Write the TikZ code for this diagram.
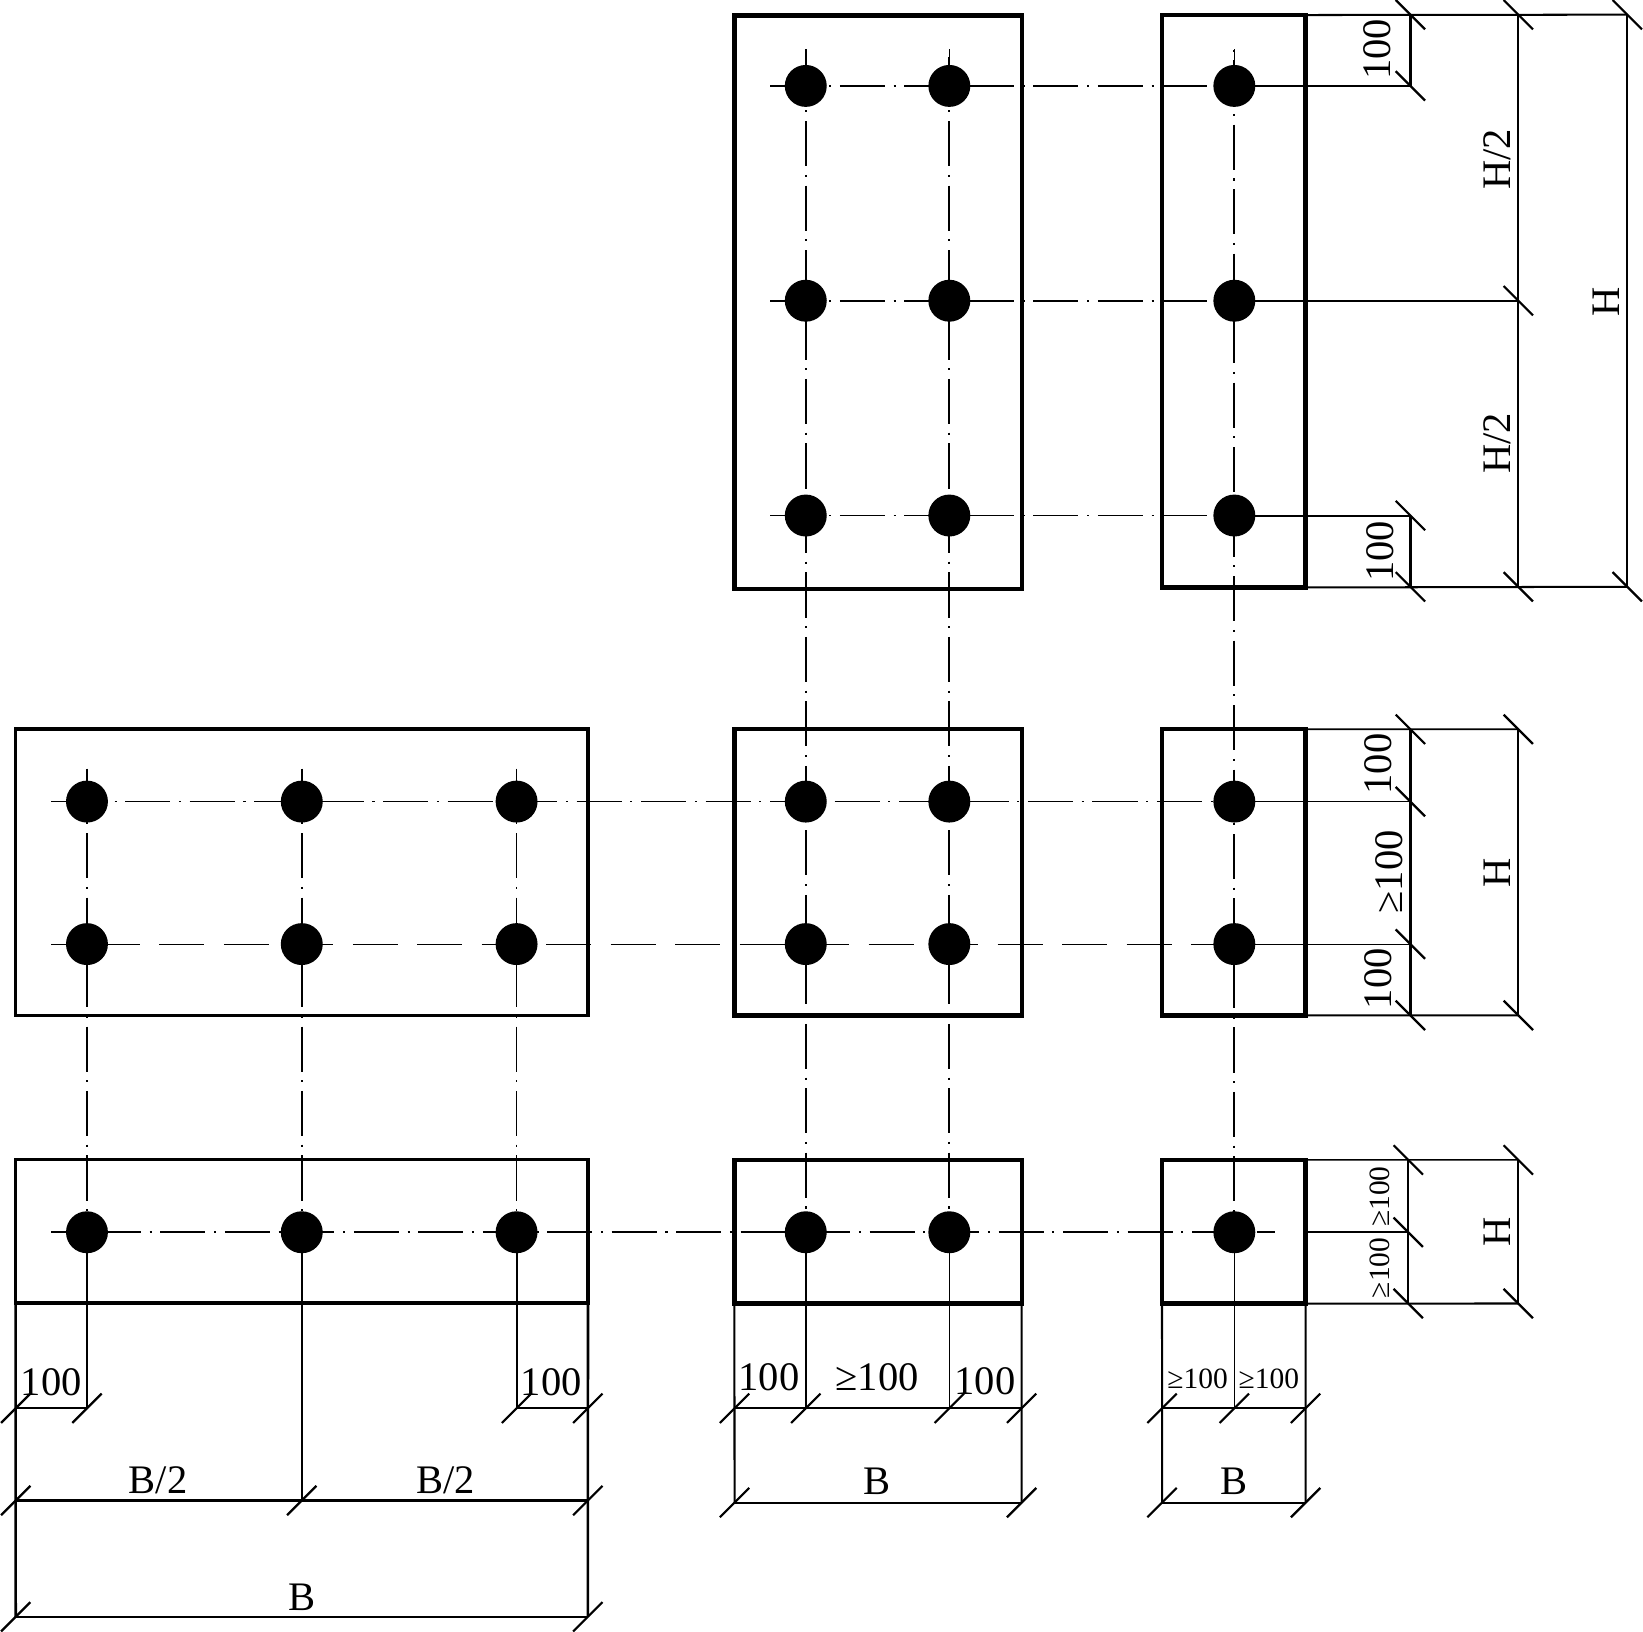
\documentclass[tikz,border=0pt]{standalone}
\usepackage{fontspec}
\setmainfont{Liberation Serif}
\tikzset{
	plate/.style={draw,line width=1.15pt,inner sep=0,outer sep=0},
	bolt/.style={circle,fill=black,inner sep=0,outer sep=0,minimum size=0.4cm},
	hcentre/.style={line width=0.43pt,dash pattern=on 0.43cm off 0.0825cm on 0.02cm off 0.0825cm},
	hfaint/.style={line width=0.3pt,dash pattern=on 0.43cm off 0.185cm},
	vcentre/.style={line width=0.48pt,dash pattern=on 0.43cm off 0.0825cm on 0.02cm off 0.0825cm},
	extline/.style={line width=0.43pt},
	faintline/.style={line width=0.3pt},
	dimline/.style={line width=0.55pt},
	heavydim/.style={line width=0.7pt},
	dimtick/.style={line width=0.6pt},
	lab/.style={font=\fontsize{11}{11}\selectfont,inner sep=0},
	smalllab/.style={font=\fontsize{8}{8}\selectfont,inner sep=0},
}
\newcommand{\hmark}[2]{\coordinate (#1) at #2; \draw[dimtick] (#1) ++(-14,14) -- ++(28,-28);}
\newcommand{\vmark}[2]{\coordinate (#1) at #2; \draw[dimtick] (#1) ++(-14,-14) -- ++(28,28);}
\begin{document}
\begin{tikzpicture}[x=0.01cm,y=-0.01cm]
	\useasboundingbox (0,0) rectangle (1568,1557.5);
	% plates
	\node[plate,minimum width=2.74cm,minimum height=5.47cm] (topB) at (838,288.5) {};
	\node[plate,minimum width=1.37cm,minimum height=5.46cm] (topC) at (1177.5,287.5) {};
	\node[plate,line width=1pt,minimum width=5.46cm,minimum height=2.73cm] (midA) at (288,832.5) {};
	\node[plate,minimum width=2.74cm,minimum height=2.73cm] (midB) at (838,832.5) {};
	\node[plate,minimum width=1.37cm,minimum height=2.73cm] (midC) at (1177.5,832.5) {};
	\node[plate,line width=1pt,minimum width=5.46cm,minimum height=1.37cm] (botA) at (288,1175) {};
	\node[plate,minimum width=2.74cm,minimum height=1.37cm] (botB) at (838,1175.5) {};
	\node[plate,minimum width=1.37cm,minimum height=1.37cm] (botC) at (1177.5,1175.5) {};
	\draw[line width=1.5pt] (topC.north east) -- (topC.south east);
	\draw[line width=1.5pt] (midC.north east) -- (midC.south east);
	\draw[line width=1.5pt] (botC.north east) -- (botC.south east);
	% bolts
	\node[bolt] (t1) at (769,82) {};
	\node[bolt] (t2) at (906,82) {};
	\node[bolt] (t3) at (1178,82) {};
	\node[bolt] (u1) at (769,287) {};
	\node[bolt] (u2) at (906,287) {};
	\node[bolt] (u3) at (1178,287) {};
	\node[bolt] (v1) at (769,492) {};
	\node[bolt] (v2) at (906,492) {};
	\node[bolt] (v3) at (1178,492) {};
	\node[bolt] (m1) at (83,765) {};
	\node[bolt] (m2) at (288,765) {};
	\node[bolt] (m3) at (493,765) {};
	\node[bolt] (m4) at (769,765) {};
	\node[bolt] (m5) at (906,765) {};
	\node[bolt] (m6) at (1178,765) {};
	\node[bolt] (n1) at (83,901) {};
	\node[bolt] (n2) at (288,901) {};
	\node[bolt] (n3) at (493,901) {};
	\node[bolt] (n4) at (769,901) {};
	\node[bolt] (n5) at (906,901) {};
	\node[bolt] (n6) at (1178,901) {};
	\node[bolt] (b1) at (83,1176) {};
	\node[bolt] (b2) at (288,1176) {};
	\node[bolt] (b3) at (493,1176) {};
	\node[bolt] (b4) at (769,1176) {};
	\node[bolt] (b5) at (906,1176) {};
	\node[bolt] (b6) at (1178,1176) {};
	% free ends of the centre lines
	\coordinate (tl) at (735,82);
	\coordinate (ul) at (735,287);
	\coordinate (vl) at (735,492);
	\coordinate (ml) at (49,765);
	\coordinate (nl) at (49,901);
	\coordinate (bl) at (49,1176);
	\coordinate (br) at (1217,1176);
	\coordinate (ta) at (83,731);
	\coordinate (tb) at (288,731);
	\coordinate (tc) at (493,731);
	\coordinate (td) at (769,47);
	\coordinate (te) at (906,47);
	\coordinate (tf) at (1178,47);
	% centre lines
	\draw[hcentre,dash phase=0.565cm] (tl) -- (t3.center);
	\draw[hcentre,dash phase=0.565cm] (ul) -- (u3.center);
	\draw[hcentre,dash phase=0.565cm] (vl) -- (v3.center);
	\draw[hcentre,dash phase=0.525cm] (ml) -- (m6.center);
	\draw[hfaint,dash phase=0.2cm] (nl) -- (n6.center);
	\draw[hcentre,dash phase=0.19cm] (bl) -- (br);
	\draw[extline] (tl) -- (t1);
	\draw[extline] (ul) -- (u1);
	\draw[extline] (vl) -- (v1);
	\draw[extline] (ml) -- (m1);
	\draw[vcentre,dash phase=0.59cm] (ta) -- (b1.center);
	\draw[vcentre,dash phase=0.59cm] (tb) -- (b2.center);
	\draw[vcentre,dash phase=0.59cm] (tc) -- (b3.center);
	\draw[vcentre,dash phase=0.545cm] (td) -- (b4.center);
	\draw[vcentre,dash phase=0.545cm] (te) -- (b5.center);
	\draw[vcentre,dash phase=0.51cm] (tf) -- (b6.center);
	\draw[extline] (td) -- (t1);
	\draw[extline] (te) -- (t2);
	\draw[extline] (tf) -- (t3);
	% dimensions, right of the top plates
	\vmark{ra1}{(1346,14)}
	\vmark{ra2}{(1346,82)}
	\vmark{ra3}{(1346,492)}
	\vmark{ra4}{(1346,560)}
	\vmark{rb1}{(1449,14)}
	\vmark{rb2}{(1449,287)}
	\vmark{rb3}{(1449,560)}
	\vmark{rc1}{(1553,14)}
	\vmark{rc2}{(1553,560)}
	\draw[dimline] (topC.north east) -- (rc1);
	\draw[extline] (t3.center) -- (ra2);
	\draw[extline] (u3.center) -- (rb2);
	\draw[dimline] (v3.center) -- (ra3);
	\draw[dimline] (topC.south east) -- (rc2);
	\draw[heavydim] (ra1) -- (ra2);
	\draw[heavydim] (ra3) -- (ra4);
	\draw[dimline] (rb1) -- (rb3);
	\draw[dimline] (rc1) -- (rc2);
	% dimensions, right of the middle plates
	\vmark{sa1}{(1346,696)}
	\vmark{sa2}{(1346,765)}
	\vmark{sa3}{(1346,901)}
	\vmark{sa4}{(1346,969)}
	\vmark{sb1}{(1449,696)}
	\vmark{sb2}{(1449,969)}
	\draw[extline] (midC.north east) -- (sb1);
	\draw[extline] (m6.center) -- (sa2);
	\draw[faintline] (n6.center) -- (sa3);
	\draw[dimline] (midC.south east) -- (sb2);
	\draw[heavydim] (sa1) -- (sa4);
	\draw[dimline] (sb1) -- (sb2);
	% dimensions, right of the bottom plates
	\vmark{qa1}{(1344,1107)}
	\vmark{qa2}{(1344,1176)}
	\vmark{qa3}{(1344,1244)}
	\vmark{qb1}{(1449,1107)}
	\vmark{qb2}{(1449,1244)}
	\draw[extline] (botC.north east) -- (qb1);
	\draw[extline] (botC.east |- qa2) -- (qa2);
	\draw[dimline] (botC.south east) -- (qb2);
	\draw[dimline] (qa1) -- (qa3);
	\draw[dimline] (qb1) -- (qb2);
	% dimensions, under the left plates
	\hmark{ha1}{(15,1344)}
	\hmark{ha2}{(83,1344)}
	\hmark{ha3}{(493,1344)}
	\hmark{ha4}{(561,1344)}
	\hmark{ia1}{(15,1432)}
	\hmark{ia2}{(288,1432)}
	\hmark{ia3}{(561,1432)}
	\hmark{ja1}{(15,1543)}
	\hmark{ja2}{(561,1543)}
	\draw[heavydim] (botA.south west) -- (ja1);
	\draw[heavydim] (botA.south east) -- (ja2);
	\draw[dimline] (b1.center) -- (ha2);
	\draw[extline] (b2.center) -- (ia2);
	\draw[dimline] (b3.center) -- (ha3);
	\draw[dimline] (ha1) -- (ha2);
	\draw[dimline] (ha3) -- (ha4);
	\draw[heavydim] (ia1) -- (ia3);
	\draw[dimline] (ja1) -- (ja2);
	% dimensions, under the middle plates
	\hmark{hb1}{(701,1344)}
	\hmark{hb2}{(769,1344)}
	\hmark{hb3}{(906,1344)}
	\hmark{hb4}{(975,1344)}
	\hmark{ib1}{(701,1434)}
	\hmark{ib2}{(975,1434)}
	\draw[dimline] (botB.south west) -- (ib1);
	\draw[dimline] (botB.south east) -- (ib2);
	\draw[dimline] (b4.center) -- (hb2);
	\draw[extline] (b5.center) -- (hb3);
	\draw[dimline] (hb1) -- (hb4);
	\draw[dimline] (ib1) -- (ib2);
	% dimensions, under the right plates
	\hmark{hc1}{(1109,1344)}
	\hmark{hc2}{(1178,1344)}
	\hmark{hc3}{(1246,1344)}
	\hmark{ic1}{(1109,1434)}
	\hmark{ic2}{(1246,1434)}
	\draw[dimline] (botC.south west) -- (ic1);
	\draw[dimline] (botC.south east) -- (ic2);
	\draw[extline] (b6.center) -- (hc2);
	\draw[dimline] (hc1) -- (hc3);
	\draw[dimline] (ic1) -- (ic2);
	% labels
	\node[lab,rotate=90] (l1) at (1314,47) {100};
	\node[lab,rotate=90] (l2) at (1317,526) {100};
	\node[lab,rotate=90] (l3) at (1429,152) {H/2};
	\node[lab,rotate=90] (l4) at (1429,423) {H/2};
	\node[lab,rotate=90] (l5) at (1533,288) {H};
	\node[lab,rotate=90] (l6) at (1315,729) {100};
	\node[lab,rotate=90] (l7) at (1326,832) {≥100};
	\node[lab,rotate=90] (l8) at (1315,934) {100};
	\node[lab,rotate=90] (l9) at (1429,833) {H};
	\node[smalllab,rotate=90] (l10) at (1317,1142) {≥100};
	\node[smalllab,rotate=90] (l11) at (1317,1210) {≥100};
	\node[lab,rotate=90] (l12) at (1429,1176) {H};
	\node[lab] (l13) at (49,1319) {100};
	\node[lab] (l14) at (526,1319) {100};
	\node[lab] (l15) at (151,1413) {B/2};
	\node[lab] (l16) at (425,1413) {B/2};
	\node[lab] (l17) at (288,1524) {B};
	\node[lab] (l18) at (734,1314) {100};
	\node[lab] (l19) at (837,1314) {≥100};
	\node[lab] (l20) at (940,1318) {100};
	\node[lab] (l21) at (837,1414) {B};
	\node[smalllab] (l22) at (1143,1316) {≥100};
	\node[smalllab] (l23) at (1211,1316) {≥100};
	\node[lab] (l24) at (1178,1414) {B};
\end{tikzpicture}
\end{document}
